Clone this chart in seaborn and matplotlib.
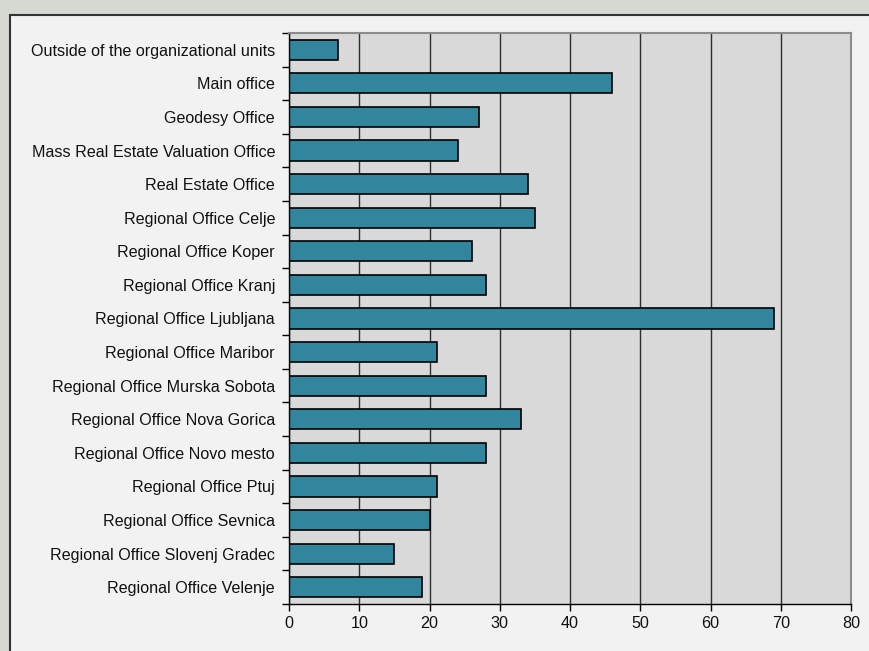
import matplotlib
matplotlib.use("Agg")
import matplotlib.pyplot as plt
import seaborn as sns
import pandas as pd
import numpy as np
from matplotlib.patches import Rectangle
from matplotlib.ticker import FixedLocator

units = [
    "Outside of the organizational units",
    "Main office",
    "Geodesy Office",
    "Mass Real Estate Valuation Office",
    "Real Estate Office",
    "Regional Office Celje",
    "Regional Office Koper",
    "Regional Office Kranj",
    "Regional Office Ljubljana",
    "Regional Office Maribor",
    "Regional Office Murska Sobota",
    "Regional Office Nova Gorica",
    "Regional Office Novo mesto",
    "Regional Office Ptuj",
    "Regional Office Sevnica",
    "Regional Office Slovenj Gradec",
    "Regional Office Velenje",
]
counts = [7, 46, 27, 24, 34, 35, 26, 28, 69, 21, 28, 33, 28, 21, 20, 15, 19]
x_ticks = [0, 10, 20, 30, 40, 50, 60, 70, 80]

df = pd.DataFrame({"unit": units, "count": counts})

sns.set_style("white")
plt.rcParams["font.family"] = ["Liberation Sans", "DejaVu Sans"]

fig = plt.figure(figsize=(8.69, 6.51), dpi=100)
fig.patch.set_facecolor("#d6d8d2")

# light panel with a dark edge on the left and top
panel = Rectangle((10 / 869, -0.01), 1.0, (651 - 15) / 651 + 0.01,
                  transform=fig.transFigure, facecolor="#f2f2f2",
                  edgecolor="#333333", linewidth=1.5, zorder=-5)
fig.add_artist(panel)

ax = fig.add_axes([289 / 869, 1 - 604 / 651, (851 - 289) / 869, (604 - 33) / 651])
ax.set_zorder(2)
ax.set_facecolor("#d9d9d9")

sns.barplot(data=df, y="unit", x="count", orient="h", color="#31859c",
            edgecolor="black", linewidth=1.2, width=0.6, saturation=1, ax=ax)

ax.set_xlim(0, 80)
ax.set_ylim(len(units) - 0.5, -0.5)
ax.set_xticks(x_ticks)
ax.set_xticklabels([str(t) for t in x_ticks])
ax.xaxis.grid(True, color="#2e2e2e", linewidth=1.0)
ax.set_axisbelow(True)
ax.set_xlabel("")
ax.set_ylabel("")

# category ticks sit between bars
ax.yaxis.set_minor_locator(FixedLocator(np.arange(-0.5, len(units), 1.0)))
ax.tick_params(axis="y", which="major", length=0, pad=10, labelsize=11.6, labelcolor="#111111")
ax.tick_params(axis="y", which="minor", length=5, width=1, color="black", left=True)
ax.tick_params(axis="x", which="major", length=5, width=1, color="black", bottom=True,
               labelsize=11.6, labelcolor="#111111", pad=4)

for side in ("left", "bottom"):
    ax.spines[side].set_color("black")
    ax.spines[side].set_linewidth(1.0)
for side in ("top", "right"):
    ax.spines[side].set_color("#8c8c8c")
    ax.spines[side].set_linewidth(1.5)

fig.savefig("out.png", dpi=100, facecolor=fig.get_facecolor())
